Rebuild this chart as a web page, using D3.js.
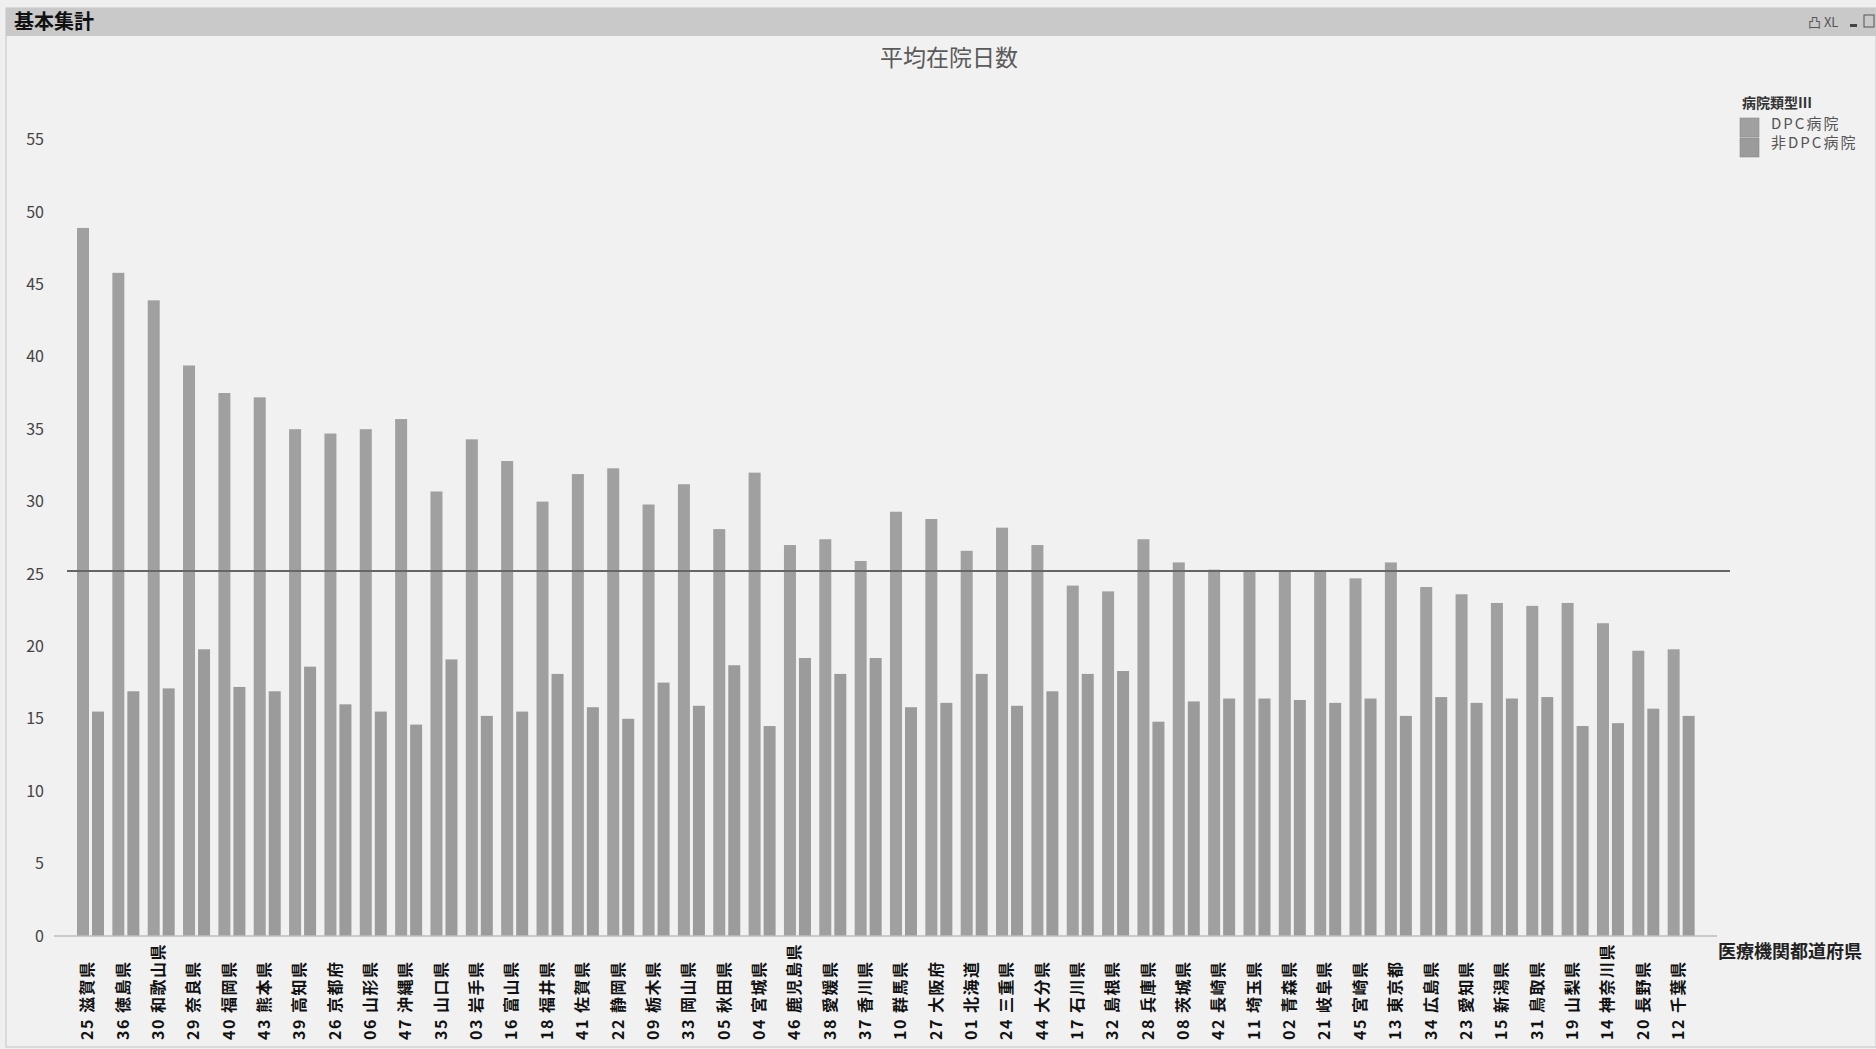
<!DOCTYPE html>
<html lang="ja">
<head>
    <meta charset="UTF-8">
    <title>基本集計 - 平均在院日数</title>
    <script src="https://d3js.org/d3.v7.min.js"></script>
    <style>
        body { margin: 0; background: #efefef; }
        svg { display: block; font-family: "Noto Sans CJK JP", "Noto Sans", sans-serif; }
        .tick-label { font-size: 16px; fill: #444; }
        .cat-label { font-size: 16px; font-weight: bold; fill: #111; letter-spacing: 1.5px; }
    </style>
</head>
<body>
    <svg width="1876" height="1049"></svg>

    <script>
        // prefecture labels, in the order shown
        const categories = [
            "25 滋賀県", "36 徳島県", "30 和歌山県", "29 奈良県", "40 福岡県", "43 熊本県",
            "39 高知県", "26 京都府", "06 山形県", "47 沖縄県", "35 山口県", "03 岩手県",
            "16 富山県", "18 福井県", "41 佐賀県", "22 静岡県", "09 栃木県", "33 岡山県",
            "05 秋田県", "04 宮城県", "46 鹿児島県", "38 愛媛県", "37 香川県", "10 群馬県",
            "27 大阪府", "01 北海道", "24 三重県", "44 大分県", "17 石川県", "32 島根県",
            "28 兵庫県", "08 茨城県", "42 長崎県", "11 埼玉県", "02 青森県", "21 岐阜県",
            "45 宮崎県", "13 東京都", "34 広島県", "23 愛知県", "15 新潟県", "31 鳥取県",
            "19 山梨県", "14 神奈川県", "20 長野県", "12 千葉県"
        ];
        const series = ["DPC病院", "非DPC病院"];
        const dpcValues = [
            48.9, 45.8, 43.9, 39.4, 37.5, 37.2, 35.0, 34.7, 35.0, 35.7, 30.7, 34.3,
            32.8, 30.0, 31.9, 32.3, 29.8, 31.2, 28.1, 32.0, 27.0, 27.4, 25.9, 29.3,
            28.8, 26.6, 28.2, 27.0, 24.2, 23.8, 27.4, 25.8, 25.3, 25.2, 25.2, 25.2,
            24.7, 25.8, 24.1, 23.6, 23.0, 22.8, 23.0, 21.6, 19.7, 19.8
        ];
        const nonDpcValues = [
            15.5, 16.9, 17.1, 19.8, 17.2, 16.9, 18.6, 16.0, 15.5, 14.6, 19.1, 15.2,
            15.5, 18.1, 15.8, 15.0, 17.5, 15.9, 18.7, 14.5, 19.2, 18.1, 19.2, 15.8,
            16.1, 18.1, 15.9, 16.9, 18.1, 18.3, 14.8, 16.2, 16.4, 16.4, 16.3, 16.1,
            16.4, 15.2, 16.5, 16.1, 16.4, 16.5, 14.5, 14.7, 15.7, 15.2
        ];
        const yTicks = [0, 5, 10, 15, 20, 25, 30, 35, 40, 45, 50, 55];
        const averageLine = 25.2;

        const svg = d3.select("svg");
        const W = 1876, H = 1049;

        // window frame + title bar
        svg.append("rect").attr("x", 6).attr("y", 8).attr("width", W - 6).attr("height", H - 10)
            .attr("fill", "#f1f1f1").attr("stroke", "#c4c4c4");
        svg.append("rect").attr("x", 6).attr("y", 8).attr("width", W - 6).attr("height", 28)
            .attr("fill", "#c9c9c9");
        svg.append("text").attr("x", 14).attr("y", 29)
            .style("font-size", "20px").style("font-weight", "bold").attr("fill", "#111")
            .text("基本集計");
        svg.append("text").attr("x", 1808).attr("y", 27)
            .style("font-size", "13px").attr("fill", "#555").text("凸 XL");
        svg.append("rect").attr("x", 1850).attr("y", 24).attr("width", 7).attr("height", 3).attr("fill", "#444");
        svg.append("rect").attr("x", 1864).attr("y", 15).attr("width", 10).attr("height", 12)
            .attr("fill", "none").attr("stroke", "#555");

        // chart title
        svg.append("text").attr("x", 949).attr("y", 66).attr("text-anchor", "middle")
            .style("font-size", "23px").attr("fill", "#5a5a5a").text("平均在院日数");

        // scales
        const x = d3.scaleBand().domain(categories).range([73, 1699]).paddingInner(0);
        const xs = d3.scaleBand().domain(series).range([4, 31]).paddingInner(0.2);
        const y = d3.scaleLinear().domain([0, 55]).range([936, 139.6]);

        // y tick labels
        svg.append("g").selectAll("text").data(yTicks).join("text")
            .attr("class", "tick-label")
            .attr("x", 44).attr("y", d => y(d)).attr("dy", "0.35em")
            .attr("text-anchor", "end")
            .text(d => d);

        // bars
        const rows = categories.map((c, i) => ({ cat: c, vals: [dpcValues[i], nonDpcValues[i]] }));
        const groups = svg.append("g").selectAll("g").data(rows).join("g")
            .attr("transform", d => `translate(${x(d.cat)},0)`);
        groups.selectAll("rect").data(d => d.vals.map((v, j) => ({ s: series[j], v })))
            .join("rect")
            .attr("x", d => xs(d.s))
            .attr("width", xs.bandwidth())
            .attr("y", d => y(d.v))
            .attr("height", d => y(0) - y(d.v))
            .attr("fill", d => d.s === series[0] ? "#a0a0a0" : "#9b9b9b");

        // x axis line
        svg.append("line").attr("x1", 54).attr("x2", 1717)
            .attr("y1", y(0)).attr("y2", y(0))
            .attr("stroke", "#bdbdbd").attr("stroke-width", 1.5);

        // average reference line
        svg.append("line").attr("x1", 67).attr("x2", 1730)
            .attr("y1", y(averageLine)).attr("y2", y(averageLine))
            .attr("stroke", "#666").attr("stroke-width", 2);

        // category labels, rotated, bottom aligned
        svg.append("g").selectAll("text").data(categories).join("text")
            .attr("class", "cat-label")
            .attr("transform", d => `translate(${x(d) + x.bandwidth() / 2 - 3},1040) rotate(-90)`)
            .attr("dy", "0.35em")
            .attr("text-anchor", "start")
            .text(d => d);

        // x axis title
        svg.append("text").attr("x", 1718).attr("y", 958)
            .style("font-size", "18px").style("font-weight", "bold").attr("fill", "#222")
            .text("医療機関都道府県");

        // legend
        const lg = svg.append("g").attr("transform", "translate(1740,0)");
        lg.append("text").attr("x", 2).attr("y", 108)
            .style("font-size", "14px").style("font-weight", "bold").attr("fill", "#333")
            .text("病院類型Ⅲ");
        lg.selectAll("rect").data(series).join("rect")
            .attr("x", 0).attr("y", (d, i) => 118 + i * 20)
            .attr("width", 19).attr("height", 19)
            .attr("fill", (d, i) => i === 0 ? "#a0a0a0" : "#9b9b9b")
            .attr("stroke", "#8a8a8a").attr("stroke-width", 0.6);
        lg.selectAll("text.item").data(series).join("text")
            .attr("class", "item")
            .attr("x", 31).attr("y", (d, i) => 124 + i * 19).attr("dy", "0.35em")
            .style("font-size", "15px").style("letter-spacing", "2px").attr("fill", "#555")
            .text(d => d);
    </script>
</body>
</html>
